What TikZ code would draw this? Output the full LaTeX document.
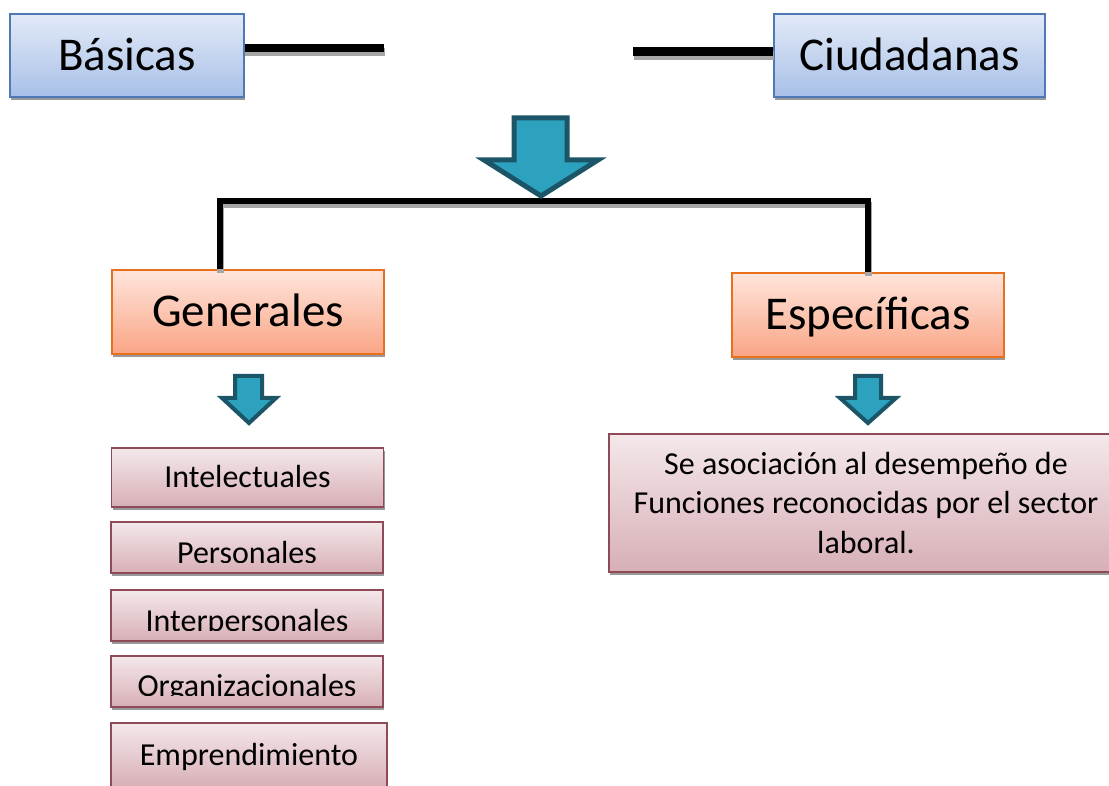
\documentclass[tikz,border=0pt]{standalone}
\usepackage{fontspec}
\setmainfont{Carlito}
\usepackage{xcolor}
\usetikzlibrary{shadows}
\definecolor{blue-top}{HTML}{E2EAF7}
\definecolor{blue-bottom}{HTML}{A8C0E8}
\definecolor{blue-line}{HTML}{4E79B5}
\definecolor{orange-top}{HTML}{FFE5DB}
\definecolor{orange-bottom}{HTML}{F9A586}
\definecolor{orange-line}{HTML}{E8701C}
\definecolor{pink-top}{HTML}{F4E8EA}
\definecolor{pink-bottom}{HTML}{D7AFB6}
\definecolor{pink-line}{HTML}{8E4A57}
\definecolor{arrow-fill}{HTML}{2CA2BF}
\definecolor{arrow-line}{HTML}{1B5567}
\tikzset{
    box-shadow/.style = {drop shadow={shadow xshift=1pt, shadow yshift=-3pt, fill=black!40, opacity=1}},
    blue-box/.style = {draw=blue-line, line width=1.5pt, top color=blue-top, bottom color=blue-bottom, rectangle, box-shadow, minimum height=83pt, inner sep=0pt, font=\fontsize{47}{56}\selectfont, text height=30pt, text depth=0pt},
    orange-box/.style = {draw=orange-line, line width=2pt, top color=orange-top, bottom color=orange-bottom, rectangle, box-shadow, minimum width=272pt, minimum height=84pt, inner sep=0pt, font=\fontsize{47}{56}\selectfont, text height=30pt, text depth=0pt},
    pink-box/.style = {draw=pink-line, line width=1.5pt, top color=pink-top, bottom color=pink-bottom, rectangle, box-shadow, minimum width=272pt, inner sep=0pt, font=\fontsize{32}{39.5}\selectfont, text height=20.6pt, text depth=0pt},
    list-text/.style = {inner sep=0pt, font=\fontsize{32}{39.5}\selectfont},
    line-shadow/.style = {draw=black!35, transform canvas={shift={(0.5pt,-4pt)}}},
    top-line/.style = {line width=8.5pt, draw=black},
    tree-line/.style = {line width=6.5pt, draw=black, line join=miter},
    big-arrow/.style = {fill=arrow-fill, draw=arrow-line, line width=5pt, line join=miter},
    small-arrow/.style = {fill=arrow-fill, draw=arrow-line, line width=4pt, line join=miter},
}
\begin{document}
\begin{tikzpicture}[x=1pt, y=-1pt]
\useasboundingbox (0,0) rectangle (1109,786);

\coordinate (basicas-end) at (384,48);
\coordinate (ciudadanas-end) at (633,51.5);
\coordinate (bar-left) at (220,201);
\coordinate (bar-right) at (868,201);

\node[blue-box, minimum width=234pt] (basicas) at (127,55.5) {Básicas};
\node[blue-box, minimum width=271pt] (ciudadanas) at (909.5,55.5) {Ciudadanas};
\node[orange-box] (generales) at (248,312) {Generales};
\node[orange-box] (especificas) at (868,315) {Específicas};

\draw[top-line, line-shadow] (basicas-end -| basicas.east) -- (basicas-end);
\draw[top-line, line-shadow] (ciudadanas-end) -- (ciudadanas-end -| ciudadanas.west);
\draw[tree-line, line-shadow] (bar-left |- generales.north) -- (bar-left) -- (bar-right) -- (bar-right |- especificas.north);
\draw[top-line] (basicas-end -| basicas.east) -- (basicas-end);
\draw[top-line] (ciudadanas-end) -- (ciudadanas-end -| ciudadanas.west);
\draw[tree-line] (bar-left |- generales.north) -- (bar-left) -- (bar-right) -- (bar-right |- especificas.north);

\draw[big-arrow] (514,118) -- (567,118) -- (567,160) -- (598,160) -- (541,196) -- (484,160) -- (514,160) -- cycle;
\draw[small-arrow] (235,376) -- (262,376) -- (262,398) -- (276,398) -- (249,423) -- (222,398) -- (235,398) -- cycle;
\draw[small-arrow] (855,376) -- (881,376) -- (881,398) -- (896,398) -- (868,423) -- (840,398) -- (855,398) -- cycle;

\node[pink-box, minimum height=59pt] (intelectuales) at (247.5,477.5) {Intelectuales};
\node[pink-box, minimum height=51pt] (personales) at (247,547.5) {};
\node[pink-box, minimum height=51pt] (interpersonales) at (247,615.5) {};
\node[pink-box, minimum height=51pt] (organizacionales) at (247,681.5) {};
\node[pink-box, minimum width=276pt, minimum height=64pt] (emprendimiento) at (249,755) {Emprendimiento};

\begin{scope}
\clip (personales.north west) rectangle ([yshift=11pt]personales.south east);
\node[list-text, anchor=base] (personales-text) at ([yshift=10pt]personales.south) {Personales};
\end{scope}
\begin{scope}
\clip (interpersonales.north west) rectangle ([yshift=11pt]interpersonales.south east);
\node[list-text, anchor=base] (interpersonales-text) at ([yshift=10pt]interpersonales.south) {Interpersonales};
\end{scope}
\begin{scope}
\clip (organizacionales.north west) rectangle ([yshift=12pt]organizacionales.south east);
\node[list-text, anchor=base] (organizacionales-text) at ([yshift=11pt]organizacionales.south) {Organizacionales};
\end{scope}

\node[pink-box, minimum width=514pt, minimum height=138pt, text height=, text depth=, align=center] (laboral) at (866,503) {Se asociación al desempeño de\\Funciones reconocidas por el sector\\laboral.};
\end{tikzpicture}
\end{document}
